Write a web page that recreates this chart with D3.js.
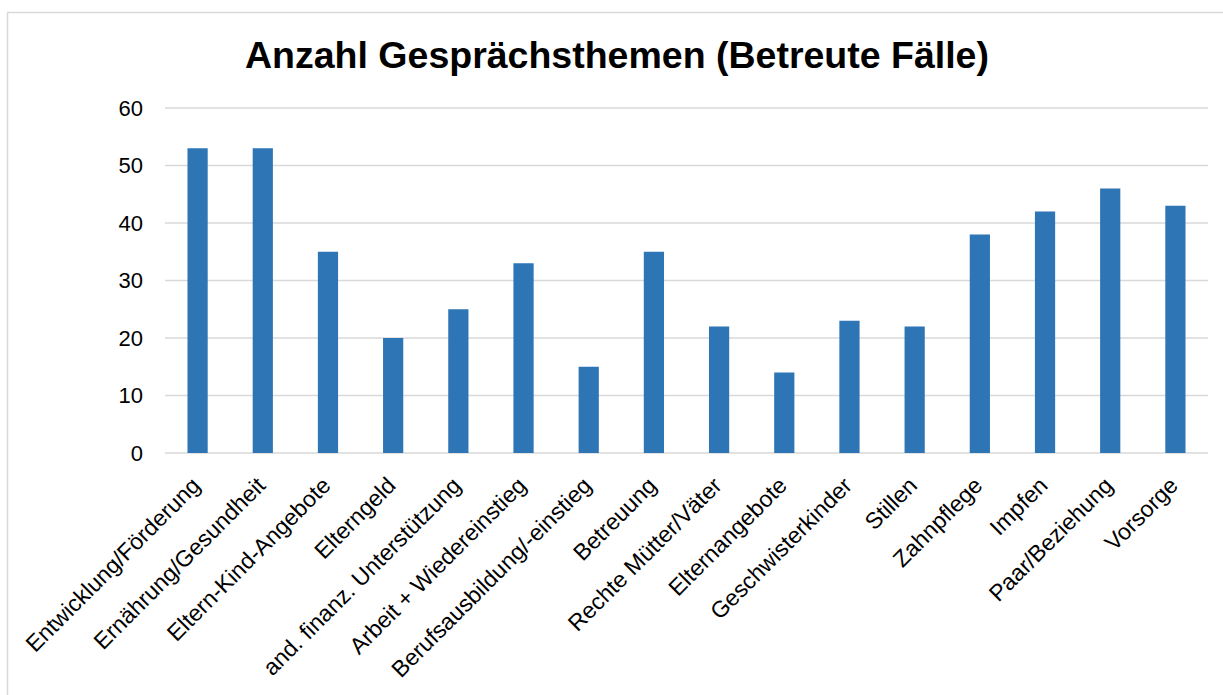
<!DOCTYPE html>
<html>
  <head>
    <meta charset="utf-8">
    <title>Anzahl Gesprächsthemen</title>
    <script src="https://d3js.org/d3.v7.min.js"></script>
    <style>
      body { margin: 0; background: #fff; }
      text { font-family: "Liberation Sans", Arial, sans-serif; fill: #000; }
    </style>
  </head>
  <body>
    <script>
      var categories = ["Entwicklung/Förderung", "Ernährung/Gesundheit", "Eltern-Kind-Angebote",
        "Elterngeld", "and. finanz. Unterstützung", "Arbeit + Wiedereinstieg",
        "Berufsausbildung/-einstieg", "Betreuung", "Rechte Mütter/Väter", "Elternangebote",
        "Geschwisterkinder", "Stillen", "Zahnpflege", "Impfen", "Paar/Beziehung", "Vorsorge"];
      var values = [53, 53, 35, 20, 25, 33, 15, 35, 22, 14, 23, 22, 38, 42, 46, 43];
      var yTicks = [0, 10, 20, 30, 40, 50, 60];
      var title = "Anzahl Gesprächsthemen (Betreute Fälle)";

      var width = 1223;
      var height = 695;
      var plotLeft = 165, plotRight = 1208, plotTop = 108, plotBottom = 453;

      var svg = d3.select("body").append("svg").attr("width", width).attr("height", height);

      // chart frame
      svg.append("rect")
        .attr("x", 7.5).attr("y", 12.5)
        .attr("width", 1300).attr("height", 800)
        .attr("fill", "none").attr("stroke", "#d9d9d9").attr("stroke-width", 1.5);

      svg.append("text")
        .attr("x", 617).attr("y", 68)
        .attr("text-anchor", "middle")
        .style("font-size", "37.5px").style("font-weight", "bold")
        .text(title);

      var xScale = d3.scaleBand()
        .domain(categories)
        .range([plotLeft, plotRight])
        .paddingInner(0.69).paddingOuter(0.345);

      var yScale = d3.scaleLinear()
        .domain([0, 60])
        .range([plotBottom, plotTop]);

      // gridlines
      svg.append("g").selectAll("line")
        .data(yTicks)
        .enter()
        .append("line")
        .attr("x1", plotLeft).attr("x2", plotRight)
        .attr("y1", function(d) { return yScale(d); })
        .attr("y2", function(d) { return yScale(d); })
        .attr("stroke", "#d9d9d9").attr("stroke-width", 1.5);

      var axisY = d3.axisLeft(yScale).tickValues(yTicks).tickSize(0).tickPadding(22);
      var gy = svg.append("g").attr("transform", "translate(" + plotLeft + ",0)").call(axisY);
      gy.select(".domain").remove();
      gy.selectAll("text").style("font-size", "22px").style("font-family", "'Liberation Sans', Arial, sans-serif");

      svg.selectAll("rect.bar")
        .data(values)
        .enter()
        .append("rect")
        .attr("class", "bar")
        .attr("x", function(d, i) { return xScale(categories[i]); })
        .attr("width", xScale.bandwidth())
        .attr("y", function(d) { return yScale(d); })
        .attr("height", function(d) { return yScale(0) - yScale(d); })
        .attr("fill", "#2e75b6");

      // rotated category labels
      svg.append("g").selectAll("text")
        .data(categories)
        .enter()
        .append("text")
        .attr("text-anchor", "end")
        .style("font-size", "23px")
        .attr("transform", function(d) {
          var cx = xScale(d) + xScale.bandwidth() / 2 + 4;
          return "translate(" + cx + ",487) rotate(-45)";
        })
        .text(function(d) { return d; });
    </script>
  </body>
</html>
